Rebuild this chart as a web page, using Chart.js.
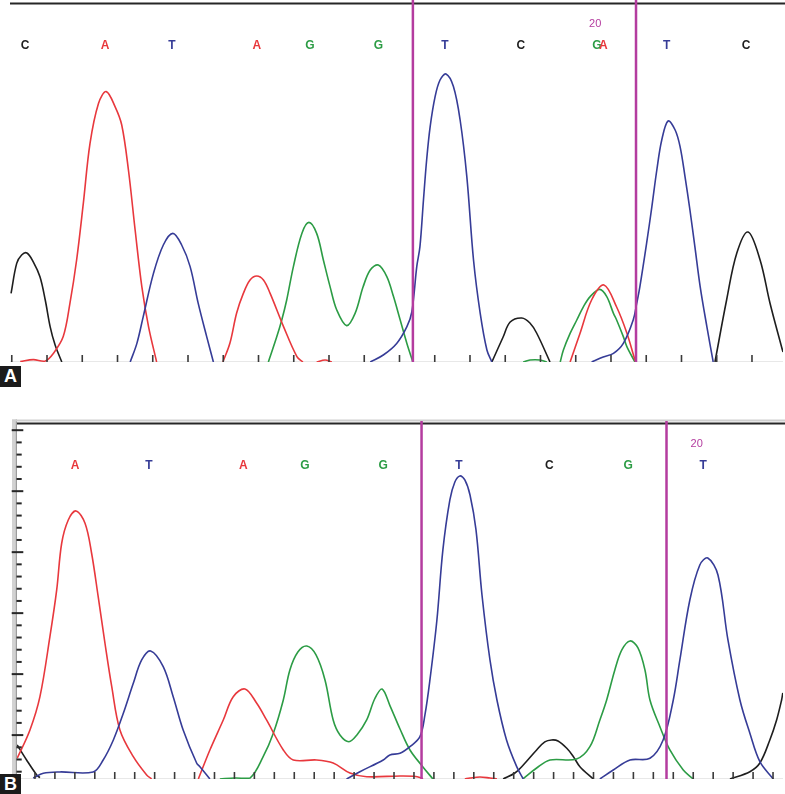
<!DOCTYPE html>
<html>
<head>
<meta charset="utf-8">
<script src="https://cdn.jsdelivr.net/npm/chart.js@4.4.1/dist/chart.umd.min.js"></script>
<style>
    html, body { margin: 0; padding: 0; background: #fff; }
    body { width: 785px; height: 794px; position: relative; overflow: hidden; }
    canvas { position: absolute; left: 0; }
    #chartA { top: 0; }
    #chartB { top: 410px; }
    .tag {
        position: absolute; left: 0; width: 21px; height: 21px;
        background: #1b1b1b; color: #fff; text-align: center; line-height: 21px;
        font: bold 18px "Liberation Sans", Arial, sans-serif;
    }
</style>
</head>
<body>
<canvas id="chartA" width="785" height="366"></canvas>
<canvas id="chartB" width="785" height="384"></canvas>
<div class="tag" style="top:366px">A</div>
<div class="tag" style="top:774px;height:20px;line-height:20px">B</div>
<script>
// ===== 1. Panel A trace data: segments of [scan, signal] =====
const aScanRange = [-0.5, 218.8];
const aSignalRange = [0, 1795];

const aTraceC = [
    [[-0.2, 343], [1.4, 493], [2.8, 535], [4.3, 545], [6.1, 501], [8.0, 426], [9.5, 310], [10.9, 176], [12.3, 85], [14.2, 0]],
    [[136.2, 0], [139.4, 125], [141.4, 200], [144.7, 220], [147.0, 195], [148.9, 145], [152.7, 0]],
    [[199.5, 0], [202.8, 310], [205.7, 545], [208.9, 650], [212.3, 510], [215.1, 295], [218.4, 75], [218.8, 50]]
];
const aTraceA = [
    [[2.4, 2], [6.1, 12], [9.5, 5], [11.8, 43], [14.6, 127], [16.5, 293], [18.4, 510], [20.3, 793], [22.2, 1093], [24.6, 1293],
     [26.8, 1352], [29.3, 1277], [31.2, 1185], [33.1, 960], [35.0, 660], [36.9, 377], [38.8, 177], [41.1, 0]],
    [[59.9, 0], [61.9, 95], [63.8, 245], [65.7, 343], [67.6, 410], [69.5, 430], [71.4, 410], [73.3, 343], [77.1, 177], [80.9, 27], [82.6, 0]],
    [[86.5, 0], [88.9, 10], [90.8, 0]],
    [[158.4, 0], [161.2, 143], [164.5, 310], [168.0, 385], [171.6, 275], [174.5, 145], [176.8, 10], [177.1, 0]]
];
const aTraceG = [
    [[72.8, 0], [75.2, 127], [76.6, 210], [78.0, 310], [79.9, 477], [82.3, 643], [84.3, 698], [86.5, 643], [88.4, 510], [90.3, 377],
     [92.2, 260], [95.0, 182], [97.4, 243], [99.7, 377], [101.7, 460], [104.0, 485], [106.4, 427], [108.3, 327], [110.2, 210], [112.1, 93], [113.8, 0]],
    [[145.1, 0], [147.0, 10], [149.9, 10], [151.8, 0]],
    [[155.6, 0], [156.5, 60], [158.4, 143], [160.3, 210], [162.2, 277], [164.1, 327], [166.8, 363], [168.8, 327], [170.7, 243],
     [171.6, 210], [173.5, 127], [174.5, 77], [176.8, 0]]
];
const aTraceT = [
    [[33.6, 0], [35.5, 93], [37.3, 227], [40.2, 443], [43.0, 585], [45.7, 643], [48.2, 585], [50.6, 477], [52.9, 293], [55.3, 127], [57.2, 0]],
    [[101.7, 0], [105.4, 35], [109.2, 93], [112.1, 177], [113.5, 250], [114.9, 477], [115.8, 577], [116.8, 810], [117.7, 1010], [118.7, 1177],
     [120.1, 1327], [121.5, 1410], [123.2, 1440], [125.3, 1377], [127.2, 1210], [129.1, 927], [131.0, 510], [132.9, 243], [134.8, 60], [136.2, 0]],
    [[164.5, 0], [167.8, 25], [170.7, 43], [173.5, 93], [176.3, 210], [177.3, 293], [178.2, 377], [180.1, 593], [181.6, 777], [183.0, 960],
     [184.4, 1110], [186.2, 1205], [188.2, 1160], [189.6, 1077], [191.0, 927], [192.4, 760], [193.8, 577], [195.3, 377], [197.2, 177], [199.0, 0]]
];
const aBases = ['C', 'A', 'T', 'A', 'G', 'G', 'T', 'C', 'G', 'A', 'T', 'C'];
const aBasePos = [3.8, 26.5, 45.4, 69.5, 84.6, 104.0, 122.9, 144.4, 166.0, 167.8, 185.8, 208.3];
const aCursors = [113.8, 177.1];
const aMarker = { label: '20', scan: 165.5 };

// ===== 2. Panel B trace data =====
const bScanRange = [-9, 375];
const bSignalRange = [-60, 2859];

const bTraceC = [
    [[-8.9, 219], [-4.2, 96], [0.9, -27], [2.5, -48]],
    [[234.7, -60], [240.6, -11], [244.8, 55], [251.5, 178], [255.6, 244], [259.0, 260], [262.2, 252], [266.5, 194], [269.7, 129], [273.2, 41], [279.9, -60]],
    [[348.4, -60], [358.4, 0], [363.4, 71], [368.4, 260], [371.8, 424], [374.3, 588], [374.9, 646]]
];
const bTraceA = [
    [[-8.9, 110], [-2.5, 342], [2.5, 615], [7.5, 1107], [10.9, 1490], [13.4, 1873], [16.7, 2064], [20.6, 2138], [25.1, 2037], [28.4, 1791],
     [31.7, 1435], [35.1, 1053], [38.5, 697], [42.6, 342], [49.3, 123], [56.0, -27], [58.5, -60]],
    [[81.9, -60], [87.7, 178], [94.4, 424], [99.4, 615], [105.3, 678], [111.1, 563], [116.1, 424], [124.5, 178], [129.5, 96], [141.2, 96],
     [149.5, 71], [157.9, -11], [166.3, -41], [183.0, -35], [190.0, -38], [193.8, -52], [194.5, -60]],
    [[215.5, -60], [218.1, -52], [223.1, -43], [228.1, -52], [231.6, -60]]
];
const bTraceG = [
    [[92.7, -60], [100.3, -52], [107.8, -52], [114.4, 123], [119.5, 315], [124.5, 588], [127.8, 834], [131.8, 981], [136.3, 1030], [140.9, 957],
     [145.4, 752], [149.5, 424], [152.9, 301], [157.4, 246], [161.4, 301], [166.3, 424], [170.4, 600], [174.0, 678], [178.0, 540], [183.0, 350],
     [188.0, 178], [194.5, 39], [199.5, -60]],
    [[244.6, -60], [251.5, 30], [258.2, 96], [271.5, 104], [278.2, 205], [283.2, 424], [286.6, 588], [290.7, 834], [294.2, 998], [298.3, 1072],
     [302.3, 1015], [305.8, 834], [308.3, 588], [313.3, 369], [318.3, 178], [325.0, 14], [330.0, -60]]
];
const bTraceT = [
    [[-0.9, -52], [4.2, -13], [12.5, -2], [29.2, -2], [34.2, 96], [39.3, 260], [44.3, 479], [49.3, 725], [53.5, 916], [58.0, 990],
     [64.3, 861], [69.3, 615], [74.3, 342], [81.1, 69], [82.7, 41], [87.7, -60]],
    [[156.2, -60], [162.9, 0], [174.6, 96], [177.9, 137], [183.0, 151], [188.0, 205], [193.0, 287], [195.5, 465], [198.0, 752], [201.5, 1244],
     [204.5, 1818], [208.0, 2228], [210.5, 2375], [213.0, 2425], [215.5, 2392], [218.1, 2269], [221.1, 1982], [224.1, 1449], [228.1, 916],
     [231.6, 588], [236.4, 260], [241.5, 41], [244.8, -60]],
    [[283.2, -60], [289.9, 14], [298.3, 96], [308.3, 110], [314.9, 260], [320.0, 588], [323.3, 916], [328.3, 1408], [333.3, 1695], [337.3, 1752],
     [342.4, 1613], [347.4, 1080], [353.4, 588], [358.4, 315], [363.4, 82], [370.1, -60]]
];
const bBases = ['A', 'T', 'A', 'G', 'G', 'T', 'C', 'G', 'T'];
const bBasePos = [20.1, 57.1, 104.4, 135.3, 174.6, 212.5, 257.8, 297.4, 335.0];
const bCursors = [193.8, 316.6];
const bMarker = { label: '20', scan: 331.7 };

// ===== 3. Colours =====
const BASE_COLORS = { A: '#e8383d', C: '#1e1e1e', G: '#2c9c45', T: '#363c97' };
const CURSOR_COLOR = '#b43c9f';

// segments -> one point list, null between segments breaks the line
function toPoints(segments) {
    const pts = [];
    segments.forEach((seg, i) => {
        if (i > 0) pts.push({ x: seg[0][0] - 0.01, y: null });
        seg.forEach(([s, v]) => pts.push({ x: s, y: v }));
    });
    return pts;
}

const chromPlugin = {
    id: 'chrom',
    beforeDatasetsDraw(chart, args, o) {
        const { ctx, chartArea: a } = chart;
        ctx.save();
        if (o.ruler) {
            ctx.fillStyle = '#d2d2d2';
            ctx.fillRect(a.left - 5, a.top - 3.5, 4.5, chart.height - a.top + 3.5);
            ctx.fillStyle = '#9c9c9c';
            ctx.fillRect(a.left - 1.2, a.top - 3.5, 1.2, chart.height - a.top + 3.5);
            ctx.strokeStyle = '#cfcfcf';
            ctx.lineWidth = 2;
            ctx.beginPath(); ctx.moveTo(a.left - 5, a.top - 2.5); ctx.lineTo(chart.width, a.top - 2.5); ctx.stroke();
        }
        ctx.strokeStyle = '#e8e8e8';
        ctx.lineWidth = 1;
        ctx.beginPath(); ctx.moveTo(a.left, a.bottom - 0.5); ctx.lineTo(a.right, a.bottom - 0.5); ctx.stroke();
        ctx.restore();
    },
    afterDatasetsDraw(chart, args, o) {
        const { ctx, chartArea: a, scales: { x, y } } = chart;
        ctx.save();
        // top frame
        ctx.strokeStyle = '#262626';
        ctx.lineWidth = 2;
        ctx.beginPath(); ctx.moveTo(a.left, a.top + 0.5); ctx.lineTo(chart.width, a.top + 0.5); ctx.stroke();

        // scan ticks along the baseline
        ctx.strokeStyle = '#3a3a3a';
        ctx.lineWidth = 1.6;
        x.ticks.forEach(t => {
            const px = x.getPixelForValue(t.value);
            ctx.beginPath(); ctx.moveTo(px, a.bottom - o.tickLen); ctx.lineTo(px, a.bottom); ctx.stroke();
        });

        // signal ruler on the left (panel B)
        if (o.ruler) {
            const top = Math.max(...y.ticks.map(t => t.value));
            ctx.strokeStyle = '#262626';
            ctx.lineWidth = 2;
            y.ticks.forEach(t => {
                const py = y.getPixelForValue(t.value);
                const major = (top - t.value) % 500 === 0;
                ctx.beginPath();
                ctx.moveTo(a.left - (major ? 5.3 : 0.5), py);
                ctx.lineTo(a.left + (major ? 6.3 : 4.7), py);
                ctx.stroke();
            });
        }

        // cursor lines
        ctx.strokeStyle = CURSOR_COLOR;
        ctx.lineWidth = 2.5;
        o.cursors.forEach(s => {
            const px = x.getPixelForValue(s);
            ctx.beginPath(); ctx.moveTo(px, a.top - o.cursorOver); ctx.lineTo(px, a.bottom); ctx.stroke();
        });

        // base calls
        ctx.font = 'bold 12px "Liberation Sans", Arial, sans-serif';
        ctx.textAlign = 'center';
        ctx.textBaseline = 'middle';
        o.bases.forEach((b, i) => {
            ctx.fillStyle = BASE_COLORS[b];
            ctx.fillText(b, x.getPixelForValue(o.basePos[i]), a.top + 42.5);
        });
        ctx.font = '11px "Liberation Sans", Arial, sans-serif';
        ctx.fillStyle = CURSOR_COLOR;
        ctx.fillText(o.marker.label, x.getPixelForValue(o.marker.scan), a.top + 21);
        ctx.restore();
    }
};

function makeChart(id, traces, scanRange, signalRange, padding, extra) {
    const datasets = ['T', 'A', 'G', 'C'].map(base => ({
        label: base,
        data: toPoints(traces[base]),
        borderColor: BASE_COLORS[base],
        borderWidth: 1.6,
        pointRadius: 0,
        fill: false,
        tension: 0.35,
        spanGaps: false
    }));
    const hidden = { display: false, drawTicks: false };
    return new Chart(document.getElementById(id), {
        type: 'line',
        data: { datasets },
        plugins: [chromPlugin],
        options: {
            responsive: false,
            devicePixelRatio: 1,
            animation: false,
            events: [],
            layout: { padding, autoPadding: false },
            plugins: {
                legend: { display: false },
                tooltip: { enabled: false },
                chrom: extra
            },
            scales: {
                x: {
                    type: 'linear', min: scanRange[0], max: scanRange[1],
                    grid: hidden, border: { display: false },
                    ticks: { display: false, stepSize: 10, includeBounds: false }
                },
                y: {
                    type: 'linear', min: signalRange[0], max: signalRange[1],
                    grid: hidden, border: { display: false },
                    ticks: { display: false, stepSize: 100, includeBounds: false }
                }
            }
        }
    });
}

makeChart('chartA', { A: aTraceA, C: aTraceC, G: aTraceG, T: aTraceT }, aScanRange, aSignalRange,
    { left: 10, right: 2, top: 3, bottom: 4 },
    { bases: aBases, basePos: aBasePos, cursors: aCursors, marker: aMarker, tickLen: 7, cursorOver: 3, ruler: false });

makeChart('chartB', { A: bTraceA, C: bTraceC, G: bTraceG, T: bTraceT }, bScanRange, bSignalRange,
    { left: 17, right: 2, top: 13, bottom: 15 },
    { bases: bBases, basePos: bBasePos, cursors: bCursors, marker: bMarker, tickLen: 7, cursorOver: 2, ruler: true });
</script>
</body>
</html>
